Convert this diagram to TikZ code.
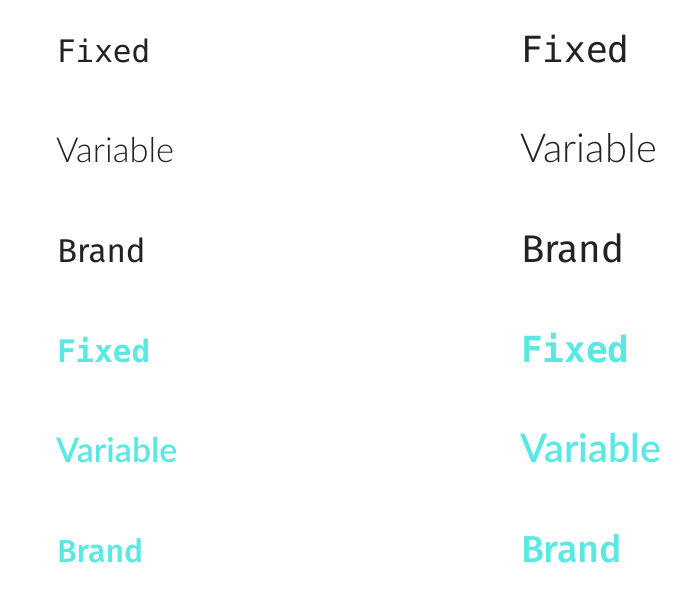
\documentclass[tikz,border=0pt]{standalone}
\usepackage{fontspec}
\newfontfamily\fixedfont{DejaVu Sans Mono}
\newfontfamily\varfont{Lato Light}
\newfontfamily\varboldfont{Lato Semibold}
\newfontfamily\brandfont{Fira Sans}
\newfontfamily\brandboldfont{Fira Sans Medium}
\definecolor{ink}{HTML}{222222}
\definecolor{aqua}{HTML}{5BE8E3}
\tikzset{
  lbl/.style={anchor=base west, inner sep=0pt, outer sep=0pt},
  dark/.style={text=ink},
  cyan/.style={text=aqua},
}
\begin{document}
\begin{tikzpicture}[x=1pt,y=-1pt]
\useasboundingbox (0,0) rectangle (700,602);
% left column
\node[lbl,dark,font=\fixedfont\fontsize{31}{31}\selectfont] (lf) at (57,62) {Fixed};
\node[lbl,dark,font=\varfont\fontsize{34.5}{34.5}\selectfont] (lv) at (56,162) {Variable};
\node[lbl,dark,font=\brandfont\fontsize{33}{33}\selectfont] (lb) at (57,262) {Brand};
\node[lbl,cyan,font=\fixedfont\bfseries\fontsize{31}{31}\selectfont] (lcf) at (57,362) {Fixed};
\node[lbl,cyan,font=\varboldfont\fontsize{34}{34}\selectfont] (lcv) at (56,462) {Variable};
\node[lbl,cyan,font=\brandboldfont\fontsize{32}{32}\selectfont] (lcb) at (57,562) {Brand};
% right column
\node[lbl,dark,font=\fixedfont\fontsize{36}{36}\selectfont] (rf) at (521,62) {Fixed};
\node[lbl,dark,font=\varfont\fontsize{40}{40}\selectfont] (rv) at (520,162) {Variable};
\node[lbl,dark,font=\brandfont\fontsize{38.5}{38.5}\selectfont] (rb) at (521,262) {Brand};
\node[lbl,cyan,font=\fixedfont\bfseries\fontsize{36}{36}\selectfont] (rcf) at (521,362) {Fixed};
\node[lbl,cyan,font=\varboldfont\fontsize{39.5}{39.5}\selectfont] (rcv) at (520,462) {Variable};
\node[lbl,cyan,font=\brandboldfont\fontsize{37.5}{37.5}\selectfont] (rcb) at (521,562) {Brand};
\end{tikzpicture}
\end{document}
